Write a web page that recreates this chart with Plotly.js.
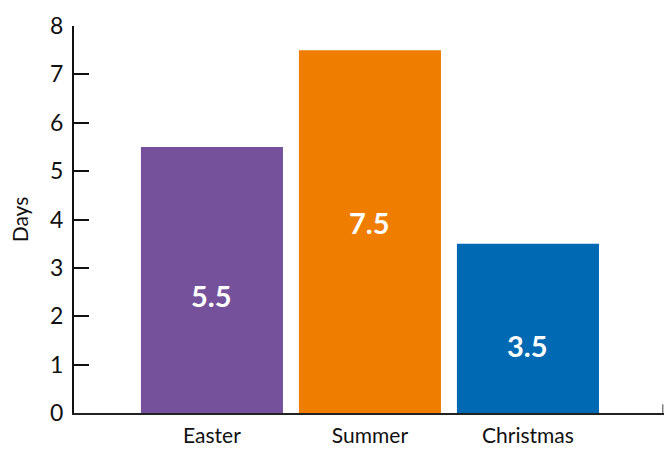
<!DOCTYPE html>
<html><head><meta charset="utf-8">
<script src="https://cdn.plot.ly/plotly-3.0.1.min.js"></script>
<style>html,body{margin:0;padding:0;background:#fff}#c{width:665px;height:450px}</style>
</head><body><div id="c"></div>
<script>
const categories = ["Easter", "Summer", "Christmas"];
const days = [5.5, 7.5, 3.5];
const colors = ["#74519a", "#ef7d00", "#0069b4"];
const yTicks = [0, 1, 2, 3, 4, 5, 6, 7, 8];
const labelShift = [-16, 9, -17];

const font = "Lato, 'Open Sans', sans-serif";
const trace = {
  type: "bar", x: categories, y: days,
  marker: {color: colors, line: {width: 0}},
  hoverinfo: "none"
};
const annotations = categories.map((c, i) => ({
  x: c, y: days[i] / 2, xref: "x", yref: "y", text: String(days[i]),
  showarrow: false, yshift: labelShift[i],
  font: {family: font, size: 29, color: "#ffffff", weight: "bold"}
}));
const layout = {
  width: 665, height: 450,
  margin: {l: 74, r: 1, t: 26, b: 37},
  paper_bgcolor: "#fff", plot_bgcolor: "#fff",
  bargap: 0.101, showlegend: false,
  font: {family: font, size: 20, color: "#111"},
  xaxis: {
    type: "category", range: [-0.873, 2.861],
    showline: true, linecolor: "#222", linewidth: 2,
    ticks: "", showgrid: false, zeroline: false, ticklabelstandoff: 3,
    tickfont: {family: font, size: 21, color: "#111"}
  },
  yaxis: {
    range: [0, 8], tickvals: yTicks,
    showline: true, linecolor: "#111", linewidth: 2,
    ticks: "inside", ticklen: 15, tickwidth: 2, tickcolor: "#111",
    showgrid: false, zeroline: false, ticklabelstandoff: 4,
    tickfont: {family: font, size: 23, color: "#111"},
    title: {text: "Days", font: {family: font, size: 21, color: "#111"}, standoff: 16}
  },
  shapes: [{type: "line", xref: "paper", yref: "y", x0: 0.998, x1: 0.998, y0: 0, y1: 0.18,
    line: {color: "#444", width: 1}}],
  annotations: annotations
};
Plotly.newPlot("c", [trace], layout, {staticPlot: true});
</script></body></html>
